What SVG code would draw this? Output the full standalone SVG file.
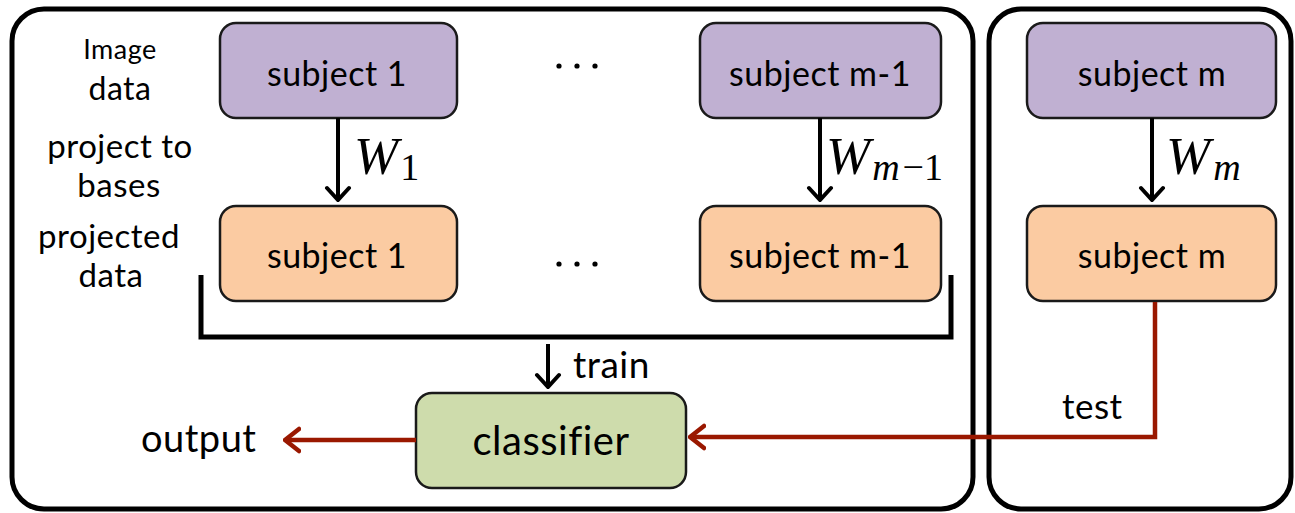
<svg xmlns="http://www.w3.org/2000/svg" width="1295" height="513" viewBox="0 0 1295 513">
  <style>
    .panel { fill: none; stroke: #000; stroke-width: 5; }
    .box { stroke: #1a1a1a; stroke-width: 2.5; }
    .raw { fill: #c0b0d2; }
    .proj { fill: #fbcba2; }
    .clf { fill: #cedcac; }
    .lbl { font-family: Lato, "Open Sans", "Liberation Sans", sans-serif; fill: #000; letter-spacing: 0.5px; }
    .math { font-family: "Liberation Serif", "DejaVu Serif", serif; font-style: italic; fill: #000; }
    .up { font-style: normal; }
    .blk { fill: none; stroke: #000; stroke-width: 4; }
    .red { fill: none; stroke: #9a1800; stroke-width: 4.5; }
  </style>
  <defs>
    <marker id="chevK" viewBox="-16 -14 18 28" markerWidth="18" markerHeight="28" refX="0" refY="0" orient="auto" markerUnits="userSpaceOnUse">
      <path d="M-12,-11 L0,0 L-12,11" fill="none" stroke="#000" stroke-width="4" stroke-linecap="round"/>
    </marker>
    <marker id="chevR" viewBox="-16 -14 18 28" markerWidth="18" markerHeight="28" refX="0" refY="0" orient="auto" markerUnits="userSpaceOnUse">
      <path d="M-14,-11 L0,0 L-14,11" fill="none" stroke="#9a1800" stroke-width="4.5" stroke-linecap="round"/>
    </marker>
  </defs>
  <rect width="1295" height="513" fill="#fff"/>

  <!-- training and test panels -->
  <g id="train-panel">
    <rect class="panel" x="12" y="9" width="961" height="500" rx="32"/>
  </g>
  <g id="test-panel">
    <rect class="panel" x="989" y="9" width="302" height="500" rx="32"/>
  </g>

  <!-- row labels -->
  <g id="row-labels" class="lbl" text-anchor="middle">
    <text x="120" y="59" font-size="27">Image</text>
    <text x="120" y="100" font-size="32">data</text>
    <text x="120" y="158" font-size="33">project to</text>
    <text x="119" y="197" font-size="33">bases</text>
    <text x="109" y="248" font-size="33">projected</text>
    <text x="111" y="287" font-size="33">data</text>
  </g>

  <!-- image data -->
  <g id="raw-1">
    <rect class="box raw" x="220" y="23" width="237" height="95" rx="16"/>
    <text class="lbl" x="337" y="86" font-size="34" text-anchor="middle">subject 1</text>
  </g>
  <g id="raw-m1">
    <rect class="box raw" x="700" y="23" width="241" height="95" rx="16"/>
    <text class="lbl" x="820" y="86" font-size="34" text-anchor="middle">subject m-1</text>
  </g>
  <g id="raw-m">
    <rect class="box raw" x="1027" y="23" width="249" height="95" rx="16"/>
    <text class="lbl" x="1152" y="86" font-size="34" text-anchor="middle">subject m</text>
  </g>

  <!-- projected data -->
  <g id="proj-1">
    <rect class="box proj" x="220" y="206" width="237" height="95" rx="16"/>
    <text class="lbl" x="337" y="268" font-size="34" text-anchor="middle">subject 1</text>
  </g>
  <g id="proj-m1">
    <rect class="box proj" x="700" y="206" width="241" height="95" rx="16"/>
    <text class="lbl" x="820" y="268" font-size="34" text-anchor="middle">subject m-1</text>
  </g>
  <g id="proj-m">
    <rect class="box proj" x="1027" y="206" width="249" height="95" rx="16"/>
    <text class="lbl" x="1152" y="268" font-size="34" text-anchor="middle">subject m</text>
  </g>

  <!-- ellipses between subjects -->
  <g id="ellipsis" fill="#000">
    <circle cx="559" cy="66" r="2.6"/><circle cx="577" cy="66" r="2.6"/><circle cx="595" cy="66" r="2.6"/>
    <circle cx="559" cy="264" r="2.6"/><circle cx="577" cy="264" r="2.6"/><circle cx="595" cy="264" r="2.6"/>
  </g>

  <!-- classifier -->
  <g id="classifier">
    <rect class="box clf" x="416" y="393" width="270" height="95" rx="16"/>
    <text class="lbl" x="551" y="455" font-size="40" text-anchor="middle">classifier</text>
  </g>

  <g id="connectors">
    <!-- projections -->
    <path class="blk" d="M338,118 V200" marker-end="url(#chevK)"/>
    <path class="blk" d="M820,118 V200" marker-end="url(#chevK)"/>
    <path class="blk" d="M1152,118 V200" marker-end="url(#chevK)"/>
    <!-- training bracket -->
    <path d="M201,275 V337 H951 V275" fill="none" stroke="#000" stroke-width="5"/>
    <path class="blk" d="M548,344 V387" marker-end="url(#chevK)" stroke-width="3.5"/>
    <!-- output and test paths -->
    <path class="red" d="M416,440 H285" marker-end="url(#chevR)"/>
    <path class="red" d="M1155,302 V437 H690" stroke-linejoin="miter" marker-end="url(#chevR)"/>
  </g>

  <!-- connector labels -->
  <g id="connector-labels">
    <text class="math" x="354" y="174" font-size="53">W<tspan class="up" font-size="38" dx="2" dy="6">1</tspan></text>
    <text class="math" x="826" y="174" font-size="53">W<tspan font-size="38" dx="2" dy="6">m</tspan><tspan class="up" font-size="38" dx="3">−1</tspan></text>
    <text class="math" x="1166" y="174" font-size="53">W<tspan font-size="38" dx="3" dy="6">m</tspan></text>
    <text class="lbl" x="573" y="378" font-size="37">train</text>
    <text class="lbl" x="141" y="452" font-size="38">output</text>
    <text class="lbl" x="1062" y="419" font-size="35">test</text>
  </g>
</svg>
